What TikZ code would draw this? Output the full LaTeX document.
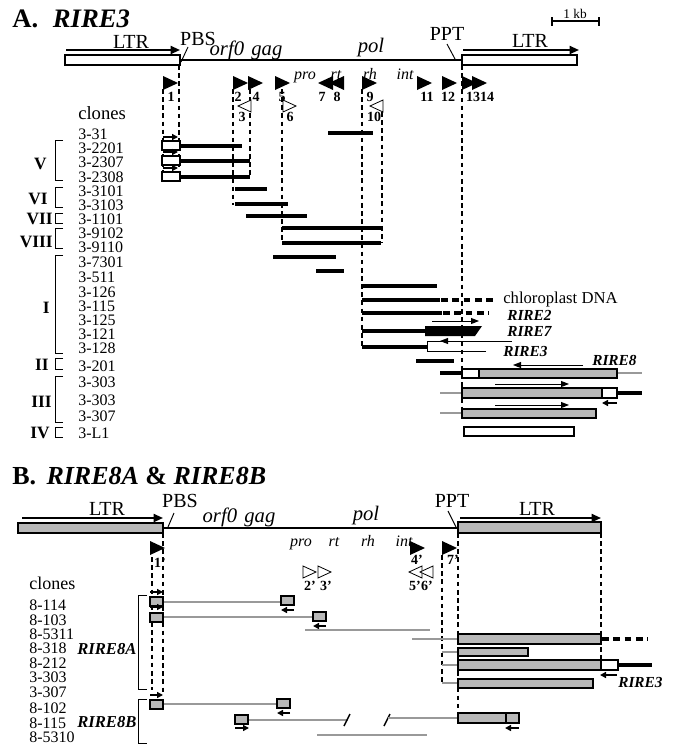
\documentclass[tikz,border=0pt]{standalone}
\usepackage{fontspec}
\setmainfont{Liberation Serif}
\usetikzlibrary{arrows.meta}
\begin{document}
\begin{tikzpicture}[x=0.75pt,y=-0.75pt,
  bar/.style={line width=3pt},
  gbar/.style={line width=2.2pt, black!40},
  vdash/.style={line width=0.8pt, dash pattern=on 3.5pt off 2.6pt},
  wbox/.style={draw, fill=white, line width=0.8pt},
  gbox/.style={draw, fill=black!28, line width=0.8pt},
  sarr/.style={line width=1.1pt, -{Triangle[length=4.5pt,width=4.5pt]}},
  tarr/.style={line width=0.7pt, -{Triangle[length=6pt,width=4.5pt]}},
  bigarr/.style={line width=1.4pt, -{Triangle[length=7pt,width=6pt]}},
  brk/.style={line width=0.6pt},
  ttl/.style={anchor=base west, inner sep=0pt, font=\bfseries\fontsize{19.5}{19.5}\selectfont},
  big/.style={anchor=base, inner sep=0pt, font=\fontsize{15}{15}\selectfont},
  bigit/.style={anchor=base, inner sep=0pt, font=\itshape\fontsize{15.5}{15.5}\selectfont},
  dom/.style={anchor=base, inner sep=0pt, font=\itshape\fontsize{12}{12}\selectfont},
  tlab/.style={anchor=base, inner sep=0pt, font=\bfseries\fontsize{10.5}{10.5}\selectfont},
  clab/.style={anchor=west, inner sep=0pt, font=\fontsize{12}{12}\selectfont},
  rom/.style={anchor=east, inner sep=0pt, font=\bfseries\fontsize{13}{13}\selectfont},
  rlab/.style={anchor=west, inner sep=0pt, font=\bfseries\itshape\fontsize{11.5}{11.5}\selectfont},
  ftriR/.pic={\fill (0,-7) -- (15,0) -- (0,7) -- cycle;},
  ftriL/.pic={\fill (15,-7) -- (0,0) -- (15,7) -- cycle;},
  otriR/.pic={\draw[line width=0.6pt, fill=white] (0,-6) -- (13,0) -- (0,6) -- cycle;},
  otriL/.pic={\draw[line width=0.6pt, fill=white] (13,-6) -- (0,0) -- (13,6) -- cycle;}
]
\useasboundingbox (0,0) rectangle (674,746);

%================ PART A =================
\node[ttl, font=\bfseries\fontsize{20}{20}\selectfont] (tA) at (12,27) {A.\hspace{0.55em}\textit{RIRE3}};
% scale bar
\draw[line width=0.8pt] (552,21) -- (599,21);
\draw[line width=0.8pt] (552,17) -- (552,26) (599,17) -- (599,26);
\node[anchor=base, inner sep=0pt, font=\fontsize{10}{10}\selectfont] (kb) at (575,18) {1 kb};

% dashed guide lines
\draw[vdash] (163,89) -- (163,173);
\draw[vdash] (179,65) -- (179,173);
\draw[vdash] (233,89) -- (233,205);
\draw[vdash] (250,89) -- (250,177);
\draw[vdash] (282,89) -- (282,243);
\draw[vdash] (362,89) -- (362,347);
\draw[vdash] (382,112) -- (382,243);
\draw[vdash] (462,65) -- (462,416);

% backbone
\draw[wbox] (65,55) rectangle (180,65);
\draw[bigarr] (66,50) -- (180,50);
\node[big] (ltrA1) at (131,48) {LTR};
\node[big] (pbsA) at (198,45) {PBS};
\draw[line width=0.7pt] (181,62) -- (188,47);
\draw[line width=1.5pt] (180,60) -- (462,60);
\node[bigit] (gagA) at (246,55) {orf0\hspace{0.35em}gag};
\node[bigit] (polA) at (371,52) {pol};
\node[big] (pptA) at (447,40) {PPT};
\draw[line width=0.7pt] (447,44) -- (455,59);
\draw[wbox] (462,55) rectangle (577,65);
\draw[bigarr] (463,50) -- (579,50);
\node[big] (ltrA2) at (530,47) {LTR};

\node[dom] (proA) at (305,79) {pro};
\node[dom] (rtA) at (336,79) {rt};
\node[dom] (rhA) at (370,79) {rh};
\node[dom] (intA) at (405,79) {int};

% primer triangles
\foreach \x in {163,233,248,275,362,417,442,462,472} \pic at (\x,83) {ftriR};
\foreach \x in {318,329} \pic at (\x,83) {ftriL};
\pic at (238,106) {otriL};
\pic at (283,106) {otriR};
\pic at (370,106) {otriL};
\foreach \t/\x in {1/171,2/238,4/256,5/282,7/322,8/337,9/370,11/427,12/448,13/473,14/487}
  \node[tlab] (pA\t) at (\x,101) {\t};
\foreach \t/\x in {3/242,6/290,10/374}
  \node[tlab] (pA\t) at (\x,121) {\t};

\node[anchor=west, inner sep=0pt, font=\fontsize{14}{14}\selectfont] (clA) at (78,113) {clones};

% clone names
\foreach \t/\y [count=\i] in {3-31/134,3-2201/148,3-2307/162,3-2308/177,3-3101/191,3-3103/205,3-1101/219,3-9102/233,3-9110/247,3-7301/262,3-511/277,3-126/292,3-115/306,3-125/320,3-121/334,3-128/348,3-201/366,3-303/382,3-303/400,3-307/416,3-L1/433}
  \node[clab] (cA\i) at (78,\y) {\t};

% group brackets
\foreach \a/\b/\n/\lx/\ly [count=\i] in {140/180/V/47/164,187/207/VI/48/199,213/223/VII/53/219,228/248/VIII/53/242,255/353/I/50/308,358/369/II/49/365,376/422/III/52/402,427/437/IV/50/433}
{ \draw[brk] (63,\a) -- (55,\a) -- (55,\b) -- (63,\b);
  \node[rom] (gA\i) at (\lx,\ly) {\n}; }

% clone bars
\draw[bar] (328,133) -- (373,133);
\foreach \y/\e in {146/242,161/250,177/250}{
  \draw[bar] (180,\y) -- (\e,\y);
  \draw[wbox] (162,\y-5) rectangle (180,\y+4);
  \draw[sarr] (163,\y-9) -- (178,\y-9);
}
\draw[bar] (235,189) -- (267,189);
\draw[bar] (235,204) -- (288,204);
\draw[bar] (246,216) -- (307,216);
\draw[bar] (282,228) -- (381,228);
\draw[bar] (282,243) -- (381,243);
\draw[bar] (273,257) -- (336,257);
\draw[bar] (316,271) -- (344,271);
\draw[bar] (362,286) -- (437,286);
% 3-115 chloroplast
\draw[bar] (362,300) -- (440,300);
\draw[line width=3.2pt, dash pattern=on 5pt off 3.5pt] (441,300) -- (497,300);
\node[anchor=west, inner sep=0pt, font=\fontsize{12.5}{12.5}\selectfont] (chl) at (503,299) {chloroplast DNA};
% 3-125 RIRE2
\draw[bar] (362,313) -- (442,313);
\draw[line width=3.2pt, dash pattern=on 5pt off 3.5pt] (443,313) -- (489,313);
\node[rlab] (r2) at (507,315) {RIRE2};
% 3-121 RIRE7
\draw[bar] (362,331) -- (426,331);
\fill (425,326) -- (482,326) -- (475,336) -- (425,336) -- cycle;
\draw[tarr] (432,321) -- (479,321);
\node[rlab] (r7) at (507,331) {RIRE7};
% 3-128 RIRE3
\draw[bar] (362,347) -- (427,347);
\draw[line width=0.7pt] (486,351) -- (427,351) -- (427,341) -- (446,341);
\draw[tarr] (512,341) -- (440,341);
\node[rlab] (r3) at (503,351) {RIRE3};
% 3-201
\draw[bar] (416,361) -- (454,361);
\draw[tarr] (583,365) -- (513,365);
\node[rlab] (r8) at (592,360) {RIRE8};
% 3-303 (1)
\draw[bar] (440,373) -- (462,373);
\draw[gbar] (617,373) -- (642,373);
\draw[wbox] (462,369) rectangle (479,378);
\draw[gbox] (479,369) rectangle (617,378);
% 3-303 (2)
\draw[tarr] (495,384) -- (569,384);
\draw[gbar] (440,393) -- (462,393);
\draw[gbox] (462,388) rectangle (602,398);
\draw[wbox] (602,388) rectangle (617,398);
\draw[bar] (617,393) -- (642,393);
\draw[sarr] (617,403) -- (602,403);
% 3-307
\draw[tarr] (495,405) -- (569,405);
\draw[gbar] (440,413) -- (462,413);
\draw[gbox] (462,409) rectangle (596,418);
% 3-L1
\draw[wbox] (464,427) rectangle (574,436);

%================ PART B =================
\node[ttl] (tB) at (12,484) {B.\hspace{0.4em}\textit{RIRE8A} \& \textit{RIRE8B}};

\draw[vdash] (152,557) -- (152,690);
\draw[vdash] (163,533) -- (163,692);
\draw[vdash] (442,555) -- (442,682);
\draw[vdash] (458,533) -- (458,713);
\draw[vdash] (601,533) -- (601,660);

\draw[gbox] (18,523) rectangle (163,533);
\draw[bigarr] (22,518) -- (163,518);
\node[big] (ltrB1) at (107,515) {LTR};
\node[big] (pbsB) at (180,507) {PBS};
\draw[line width=0.7pt] (168,527) -- (174,513);
\draw[line width=1.5pt] (163,528) -- (458,528);
\node[bigit] (gagB) at (239,522) {orf0\hspace{0.35em}gag};
\node[bigit] (polB) at (366,520) {pol};
\node[big] (pptB) at (452,507) {PPT};
\draw[line width=0.7pt] (448,511) -- (456,527);
\draw[gbox] (458,522) rectangle (601,533);
\draw[bigarr] (460,518) -- (601,518);
\node[big] (ltrB2) at (537,515) {LTR};

\node[dom] (proB) at (301,546) {pro};
\node[dom] (rtB) at (334,546) {rt};
\node[dom] (rhB) at (368,546) {rh};
\node[dom] (intB) at (404,546) {int};

\foreach \x in {150,410,442} \pic at (\x,548) {ftriR};
\pic at (303,572) {otriR};
\pic at (318,572) {otriR};
\pic at (409,572) {otriL};
\pic at (420,572) {otriL};
\foreach \t/\x/\y [count=\i] in {1'/160/567,4'/417/564,7'/453/564,2'/310/590,3'/326/590,5'/415/590,6'/427/590}
  \node[tlab] (pB\i) at (\x,\y) {\t};

\node[anchor=west, inner sep=0pt, font=\fontsize{13.5}{13.5}\selectfont] (clB) at (29,583) {clones};
\foreach \t/\y [count=\i] in {8-114/605,8-103/620,8-5311/634,8-318/648,8-212/663,3-303/677,3-307/692,8-102/708,8-115/723,8-5310/737}
  \node[clab] (cB\i) at (29,\y) {\t};
\node[rlab, font=\bfseries\itshape\fontsize{12.5}{12.5}\selectfont] (r8a) at (77,649) {RIRE8A};
\node[rlab, font=\bfseries\itshape\fontsize{12.5}{12.5}\selectfont] (r8b) at (77,722) {RIRE8B};
\draw[brk] (147,595) -- (138,595) -- (138,689) -- (147,689);
\draw[brk] (147,699) -- (138,699) -- (138,743) -- (147,743);

% 8-114
\draw[gbar] (163,602) -- (281,602);
\draw[gbox] (150,597) rectangle (163,606);
\draw[sarr] (150,592) -- (163,592);
\draw[gbox] (281,596) rectangle (294,605);
\draw[sarr] (294,610) -- (281,610);
% 8-103
\draw[gbar] (163,617) -- (313,617);
\draw[gbox] (150,613) rectangle (163,622);
\draw[sarr] (150,607) -- (163,607);
\draw[gbox] (313,612) rectangle (326,621);
\draw[sarr] (326,626) -- (313,626);
% 8-5311
\draw[gbar] (305,630) -- (430,630);
% 8-318
\draw[gbar] (412,639) -- (458,639);
\draw[gbox] (458,634) rectangle (601,644);
\draw[line width=3.2pt, dash pattern=on 5pt off 3.5pt] (602,639) -- (648,639);
% 8-212
\draw[gbar] (442,652) -- (458,652);
\draw[gbox] (458,648) rectangle (528,656);
% 3-303
\draw[gbar] (442,665) -- (458,665);
\draw[gbox] (458,660) rectangle (601,670);
\draw[wbox] (601,660) rectangle (618,670);
\draw[bar] (618,665) -- (652,665);
\draw[sarr] (617,675) -- (600,675);
\node[rlab] (r3b) at (618,682) {RIRE3};
% 3-307
\draw[gbar] (442,683) -- (458,683);
\draw[gbox] (458,679) rectangle (593,688);
% 8-102
\draw[gbar] (163,704) -- (277,704);
\draw[gbox] (150,700) rectangle (163,709);
\draw[sarr] (150,695) -- (163,695);
\draw[gbox] (277,699) rectangle (290,708);
\draw[sarr] (290,713) -- (277,713);
% 8-115
\draw[gbar] (248,720) -- (348,720);
\draw[line width=1.1pt] (344,726) -- (350,714);
\draw[line width=1.1pt] (384,726) -- (390,714);
\draw[gbar] (388,718) -- (458,718);
\draw[gbox] (235,715) rectangle (248,724);
\draw[sarr] (235,728) -- (249,728);
\draw[gbox] (458,713) rectangle (519,723);
\draw[line width=0.8pt] (506,713) -- (506,723);
\draw[sarr] (519,728) -- (505,728);
% 8-5310
\draw[gbar] (317,735) -- (427,735);
\end{tikzpicture}
\end{document}
